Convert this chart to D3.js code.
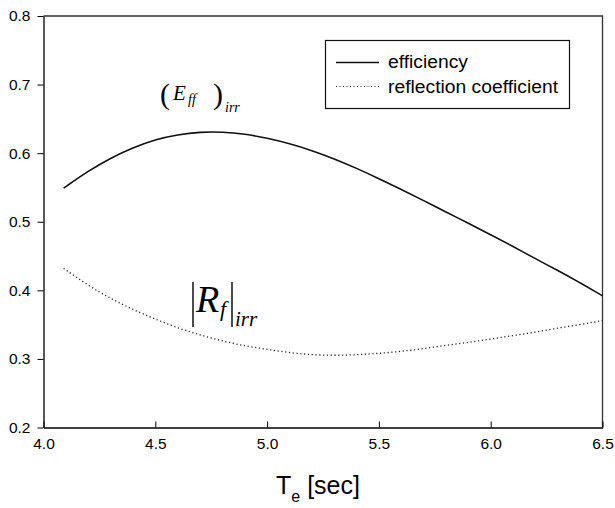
<!DOCTYPE html>
<html>
<head>
<meta charset="utf-8">
<script src="https://cdn.jsdelivr.net/npm/d3@7"></script>
<style>
  body { margin: 0; background: #fff; }
  svg { display: block; }
  .axis text { font-family: Arial, "Liberation Sans", sans-serif; font-size: 15.5px; fill: #000; }
  .axis path, .axis line { stroke: #000; }
  .math { font-family: "Times New Roman", "Liberation Serif", serif; font-style: italic; fill: #000; }
</style>
</head>
<body>
<svg id="chart" width="615" height="508"></svg>
<script>
// ---- Dados
const period = [4.09, 4.2, 4.3, 4.4, 4.5, 4.6, 4.7, 4.8, 4.9, 5.0, 5.1, 5.2, 5.3, 5.4, 5.5, 5.6, 5.7, 5.8, 5.9, 6.0, 6.1, 6.2, 6.3, 6.4, 6.5];
const efficiency = [0.549, 0.574, 0.593, 0.608, 0.620, 0.627, 0.631, 0.631, 0.628, 0.622, 0.614, 0.604, 0.592, 0.578, 0.563, 0.547, 0.531, 0.514, 0.498, 0.481, 0.464, 0.446, 0.429, 0.411, 0.392];
const reflection = [0.432, 0.407, 0.388, 0.372, 0.358, 0.345, 0.335, 0.326, 0.319, 0.314, 0.309, 0.306, 0.305, 0.306, 0.308, 0.311, 0.315, 0.320, 0.324, 0.329, 0.334, 0.339, 0.345, 0.350, 0.356];
const xTicks = [4.0, 4.5, 5.0, 5.5, 6.0, 6.5];
const yTicks = [0.2, 0.3, 0.4, 0.5, 0.6, 0.7, 0.8];
const seriesNames = ['efficiency', 'reflection coefficient'];

const svg = d3.select('#chart');
const margens = { left: 43.5, right: 12.5, top: 16, bottom: 80.5 };
const width  = 615 - margens.left - margens.right;
const height = 508 - margens.top - margens.bottom;

const g = svg.append('g').attr('transform', `translate(${margens.left}, ${margens.top})`);

// ---- Escalas
const mapX = d3.scaleLinear().domain([4.0, 6.5]).range([0, width]);
const mapY = d3.scaleLinear().domain([0.2, 0.8]).range([height, 0]);

// ---- Moldura (top/right)
g.append('path')
    .attr('d', `M0,0H${width}V${height}`)
    .attr('fill', 'none')
    .attr('stroke', '#333')
    .attr('stroke-width', 1.3);

// ---- Eixos
g.append('g')
    .attr('class', 'x axis')
    .attr('transform', `translate(0, ${height})`)
    .call(d3.axisBottom(mapX).tickValues(xTicks).tickFormat(d3.format('.1f')).tickSizeInner(-6).tickSizeOuter(0).tickPadding(16))
    .call(a => a.select('.domain').attr('stroke-width', 1.5))
    .call(a => a.selectAll('.tick line').attr('y2', -6).attr('y1', 0));

g.selectAll('.x.axis .tick text').attr('dy', '0.35em');

g.append('g')
    .attr('class', 'y axis')
    .call(d3.axisLeft(mapY).tickValues(yTicks).tickFormat(d3.format('.1f')).tickSizeInner(6).tickSizeOuter(0).tickPadding(7))
    .call(a => a.select('.domain').attr('stroke-width', 1.3));

// ---- Linhas
const rows = period.map((p, i) => ({ p, e: efficiency[i], r: reflection[i] }));
const line = key => d3.line().x(d => mapX(d.p)).y(d => mapY(d[key])).curve(d3.curveBasis);

g.append('path')
    .datum(rows)
    .attr('d', line('e'))
    .attr('fill', 'none')
    .attr('stroke', '#111')
    .attr('stroke-width', 1.6);

g.append('path')
    .datum(rows)
    .attr('d', line('r'))
    .attr('fill', 'none')
    .attr('stroke', '#222')
    .attr('stroke-width', 1.3)
    .attr('stroke-dasharray', '1.2,2.6');

// ---- Legenda
const leg = svg.append('g');
leg.append('rect')
    .attr('x', 325.5).attr('y', 40.5).attr('width', 244).attr('height', 68)
    .attr('fill', '#fff').attr('stroke', '#111').attr('stroke-width', 1.2);
leg.append('line').attr('x1', 336).attr('x2', 379).attr('y1', 62.5).attr('y2', 62.5)
    .attr('stroke', '#111').attr('stroke-width', 1.5);
leg.append('line').attr('x1', 336).attr('x2', 379).attr('y1', 86.5).attr('y2', 86.5)
    .attr('stroke', '#222').attr('stroke-width', 1.2).attr('stroke-dasharray', '1,2.5');
leg.selectAll('text.leg')
    .data(seriesNames)
    .join('text')
    .attr('class', 'leg')
    .attr('x', 388)
    .attr('y', (d, i) => 68 + i * 24.5)
    .attr('textLength', (d, i) => i === 0 ? 80 : 170)
    .attr('lengthAdjust', 'spacingAndGlyphs')
    .style('font-family', 'Arial, "Liberation Sans", sans-serif')
    .style('font-size', '18px')
    .text(d => d);

// ---- Titulo eixo X
const xt = svg.append('text')
    .attr('x', 276)
    .attr('y', 494)
    .style('font-family', 'Arial, "Liberation Sans", sans-serif')
    .style('font-size', '25px');
xt.append('tspan').text('T');
xt.append('tspan').attr('dy', 8).style('font-size', '16px').text('e');
xt.append('tspan').attr('dy', -8).text(' [sec]');

// ---- Anotações
// (E_ff)_irr
svg.append('text').attr('class', 'math').attr('x', 160).attr('y', 104)
    .style('font-style', 'normal').style('font-size', '30px').text('(');
svg.append('text').attr('class', 'math').attr('x', 173).attr('y', 100)
    .style('font-size', '21px').text('E');
svg.append('text').attr('class', 'math').attr('x', 188).attr('y', 104)
    .style('font-size', '14px').text('ff');
svg.append('text').attr('class', 'math').attr('x', 213).attr('y', 104)
    .style('font-style', 'normal').style('font-size', '30px').text(')');
svg.append('text').attr('class', 'math').attr('x', 225).attr('y', 112)
    .style('font-size', '14px').text('irr');

// |R_f|_irr
svg.append('path')
    .attr('d', 'M193,282V327M232,282V327')
    .attr('stroke', '#000').attr('stroke-width', 1.4);
svg.append('text').attr('class', 'math').attr('x', 196).attr('y', 311.5)
    .style('font-size', '38px').text('R');
svg.append('text').attr('class', 'math').attr('x', 220).attr('y', 316)
    .style('font-size', '22px').text('f');
svg.append('text').attr('class', 'math').attr('x', 235).attr('y', 326)
    .style('font-size', '21px').text('irr');
</script>
</body>
</html>
